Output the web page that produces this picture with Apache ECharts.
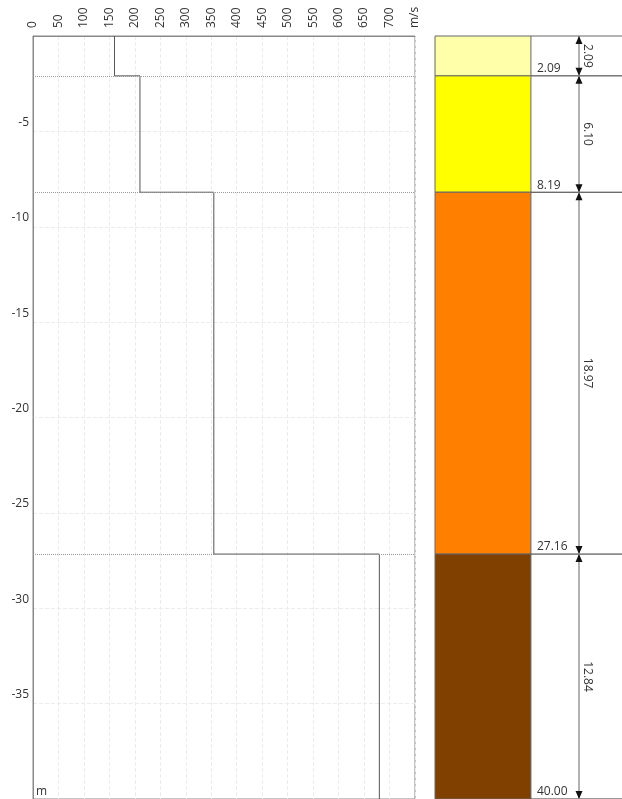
<!DOCTYPE html>
<html>
<head>
<meta charset="utf-8">
<script src="https://cdn.jsdelivr.net/npm/echarts@6/dist/echarts.min.js"></script>
<style>
    html, body {margin: 0; padding: 0; background: #fff;}
    #main {width: 622px; height: 799px;}
</style>
</head>
<body>
<div id="main"></div>
<script>
    // layer bottoms (m) and shear wave velocity (m/s)
    const layerBottoms = [2.09, 8.19, 27.16, 40.00];
    const velocities = [160, 210, 355, 680];
    const layerColors = ['#ffffaa', '#ffff00', '#ff8000', '#804000'];
    const velMax = 750;   // last tick label replaced by unit
    const depthMax = 40;

    const chart = echarts.init(document.getElementById('main'));
    const font = '"Open Sans", "Noto Sans", sans-serif';

    // step profile points
    let stepPts = [];
    let tops = [];
    layerBottoms.forEach(function (b, i) {
        let t = i === 0 ? 0 : layerBottoms[i - 1];
        tops.push(t);
        stepPts.push([velocities[i], -t]);
        stepPts.push([velocities[i], -b]);
    });
    let layerData = layerBottoms.map(function (b, i) {
        return [tops[i], b, b - tops[i], i];
    });

    const colW = 0.513, dimX = 0.77, depthTxtX = 0.545;

    function renderLayer(params, api) {
        let t = api.value(0), b = api.value(1), th = api.value(2), i = api.value(3);
        let p0 = api.coord([0, -t]), p1 = api.coord([colW, -b]);
        let pEnd = api.coord([1, -b]), pEndT = api.coord([1, -t]);
        let xd = api.coord([dimX, 0])[0];
        let xt = api.coord([depthTxtX, 0])[0];
        let kids = [{
            type: 'rect', shape: {x: p0[0], y: p0[1], width: p1[0] - p0[0], height: p1[1] - p0[1]},
            style: {fill: layerColors[i], stroke: '#666', lineWidth: 1}
        }, {
            type: 'line', shape: {x1: p1[0], y1: p1[1], x2: pEnd[0], y2: pEnd[1]},
            style: {stroke: '#333', lineWidth: 1}
        }, {
            type: 'text', x: xt, y: p1[1] - 1,
            style: {text: b.toFixed(2), align: 'left', verticalAlign: 'bottom', fill: '#333', font: '12px ' + font}
        }, {
            type: 'line', shape: {x1: xd, y1: p0[1], x2: xd, y2: p1[1]},
            style: {stroke: '#999', lineWidth: 1.5}
        }, {
            type: 'polygon', shape: {points: [[xd, p0[1]], [xd - 3.5, p0[1] + 8], [xd + 3.5, p0[1] + 8]]},
            style: {fill: '#111'}
        }, {
            type: 'polygon', shape: {points: [[xd, p1[1]], [xd - 3.5, p1[1] - 8], [xd + 3.5, p1[1] - 8]]},
            style: {fill: '#111'}
        }, {
            type: 'text', x: xd + 8, y: (p0[1] + p1[1]) / 2, rotation: -Math.PI / 2,
            style: {text: th.toFixed(2), align: 'center', verticalAlign: 'middle', fill: '#333', font: '12px ' + font}
        }];
        if (i === 0) {
            kids.push({
                type: 'line', shape: {x1: p1[0], y1: p0[1], x2: pEndT[0], y2: pEndT[1]},
                style: {stroke: '#666', lineWidth: 1}
            });
        }
        return {type: 'group', children: kids};
    }

    const option = {
        animation: false,
        textStyle: {fontFamily: font},
        grid: [
            {left: 33, right: 207, top: 36, bottom: -1, show: true, borderColor: '#888', borderWidth: 1},
            {left: 435, right: 0, top: 36, bottom: -1}
        ],
        xAxis: [{
            gridIndex: 0, type: 'value', position: 'top', min: 0, max: velMax, interval: 50,
            axisLine: {show: true, lineStyle: {color: '#888'}},
            axisTick: {show: false},
            axisLabel: {
                rotate: 90, margin: 8, color: '#333', fontSize: 12,
                formatter: function (v) { return v === velMax ? 'm/s' : String(v); }
            },
            splitLine: {show: true, lineStyle: {color: '#ececec', type: 'dashed'}}
        }, {
            gridIndex: 1, type: 'value', min: 0, max: 1, show: false
        }],
        yAxis: [{
            gridIndex: 0, type: 'value', min: -depthMax, max: 0, interval: 5,
            name: 'm', nameLocation: 'start', nameGap: 0,
            nameTextStyle: {align: 'left', verticalAlign: 'bottom', color: '#333', fontSize: 12, padding: [0, 0, 1, 3]},
            axisLine: {show: true, lineStyle: {color: '#888'}},
            axisTick: {show: false},
            axisLabel: {
                margin: 4, color: '#333', fontSize: 12, verticalAlign: 'bottom', padding: [0, 0, 3, 0],
                formatter: function (v) { return (v === 0 || v === -depthMax) ? '' : String(v); }
            },
            splitLine: {show: true, lineStyle: {color: '#ececec', type: 'dashed'}}
        }, {
            gridIndex: 1, type: 'value', min: -depthMax, max: 0, show: false
        }],
        series: [{
            type: 'line', xAxisIndex: 0, yAxisIndex: 0, data: stepPts, symbol: 'none',
            lineStyle: {color: '#555', width: 1},
            markLine: {
                symbol: 'none', silent: true, label: {show: false},
                lineStyle: {color: '#999', type: 'dotted', width: 1},
                data: layerBottoms.slice(0, -1).map(function (b) { return {yAxis: -b}; })
            }
        }, {
            type: 'custom', xAxisIndex: 1, yAxisIndex: 1, data: layerData,
            renderItem: renderLayer, clip: false
        }]
    };
    chart.setOption(option);
</script>
</body>
</html>
